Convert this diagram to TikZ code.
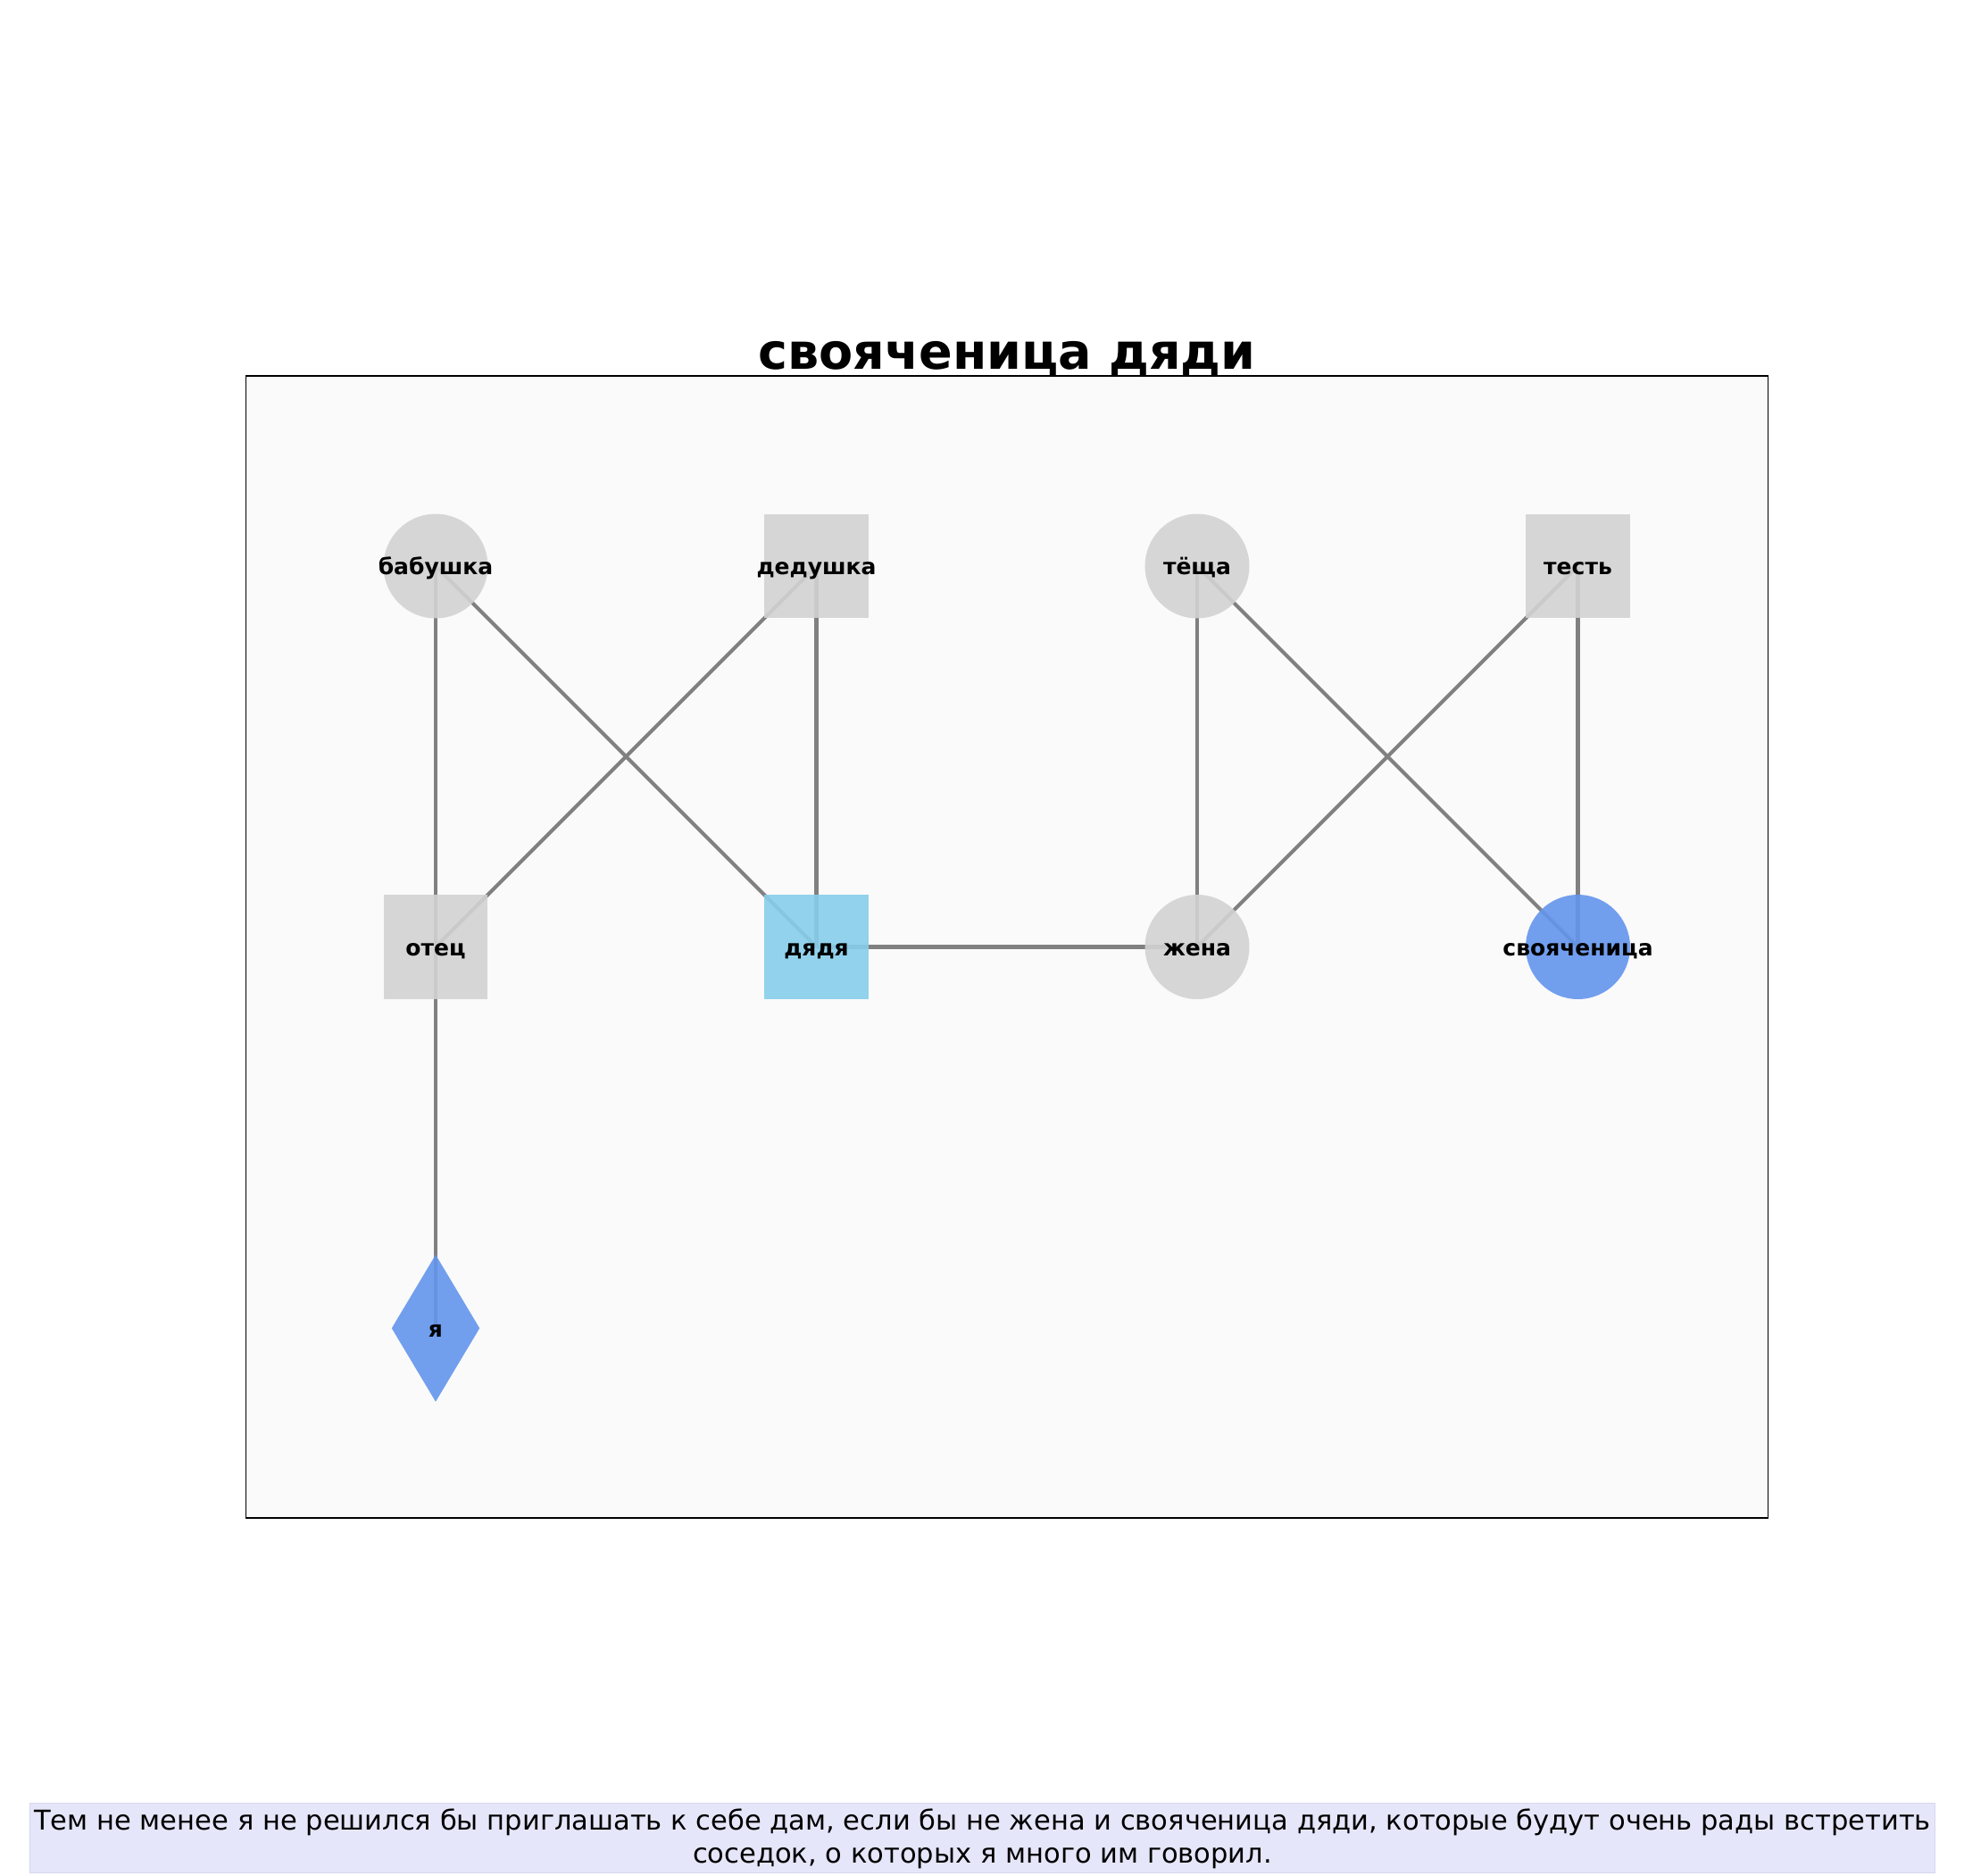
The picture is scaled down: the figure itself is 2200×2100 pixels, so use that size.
\documentclass[tikz,border=0pt]{standalone}
\usepackage{fontspec}
\setmainfont{DejaVu Sans}
\usetikzlibrary{shapes.geometric}
\definecolor{nodegray}{HTML}{D3D3D3}
\definecolor{sky}{HTML}{87CEEB}
\definecolor{cblue}{HTML}{6495ED}
\definecolor{edgegray}{HTML}{808080}
\definecolor{panel}{HTML}{FAFAFA}
\definecolor{lav}{HTML}{E6E6FA}
\definecolor{lavedge}{HTML}{D6D6EC}
\tikzset{
  edge/.style={draw=edgegray, line width=1.5pt},
  roundnode/.style={circle, inner sep=0pt, minimum size=42.1pt, fill opacity=0.9, draw=none},
  squarenode/.style={rectangle, inner sep=0pt, minimum size=42.1pt, fill opacity=0.9, draw=none},
  diamondnode/.style={diamond, inner sep=0pt, minimum width=35.6pt, minimum height=59.4pt, fill opacity=0.9, draw=none},
  lbl/.style={font=\fontsize{9}{11}\selectfont\bfseries, text=black, inner sep=0pt, anchor=base, yshift=-3.5pt},
}
\begin{document}
\begin{tikzpicture}[x=0.36pt,y=-0.36pt]
\useasboundingbox (0,0) rectangle (2200,2100);
\fill[white] (0,0) rectangle (2200,2100);
% panel
\draw[fill=panel, draw=black, line width=0.55pt] (275.5,421) rectangle (1980.5,1700);
\node[anchor=base, inner sep=0pt, font=\fontsize{20}{24}\selectfont\bfseries] (title) at (1128,413) {свояченица дяди};
% coordinates
\coordinate (pBab) at (488,634);
\coordinate (pDed) at (914.5,634);
\coordinate (pTes) at (1341,634);
\coordinate (pTst) at (1767.5,634);
\coordinate (pOtc) at (488,1060.5);
\coordinate (pDya) at (914.5,1060.5);
\coordinate (pZhe) at (1341,1060.5);
\coordinate (pSvo) at (1767.5,1060.5);
\coordinate (pYa) at (488,1487.5);
% edges
\draw[edge] (pBab) -- (pOtc);
\draw[edge] (pBab) -- (pDya);
\draw[edge] (pDed) -- (pOtc);
\draw[edge] (pDed) -- (pDya);
\draw[edge] (pTes) -- (pZhe);
\draw[edge] (pTes) -- (pSvo);
\draw[edge] (pTst) -- (pZhe);
\draw[edge] (pTst) -- (pSvo);
\draw[edge] (pDya) -- (pZhe);
\draw[edge] (pOtc) -- (pYa);
% nodes
\node[roundnode, fill=nodegray] (bab) at (pBab) {};
\node[squarenode, fill=nodegray] (ded) at (pDed) {};
\node[roundnode, fill=nodegray] (tes) at (pTes) {};
\node[squarenode, fill=nodegray] (tst) at (pTst) {};
\node[squarenode, fill=nodegray] (otc) at (pOtc) {};
\node[squarenode, fill=sky] (dya) at (pDya) {};
\node[roundnode, fill=nodegray] (zhe) at (pZhe) {};
\node[roundnode, fill=cblue] (svo) at (pSvo) {};
\node[diamondnode, fill=cblue] (ya) at (pYa) {};
% labels
\node[lbl] (lBab) at (bab.center) {бабушка};
\node[lbl] (lDed) at (ded.center) {дедушка};
\node[lbl] (lTes) at (tes.center) {тёща};
\node[lbl] (lTst) at (tst.center) {тесть};
\node[lbl] (lOtc) at (otc.center) {отец};
\node[lbl] (lDya) at (dya.center) {дядя};
\node[lbl] (lZhe) at (zhe.center) {жена};
\node[lbl] (lSvo) at (svo.center) {свояченица};
\node[lbl] (lYa) at (ya.center) {я};
% caption
\draw[fill=lav, draw=lavedge, line width=0.5pt] (33.3,2019.3) rectangle (2167.7,2097.3);
\node[align=center, inner sep=0pt, font=\fontsize{11}{13.2}\selectfont] (cap) at (1100.5,2059) {Тем не менее я не решился бы приглашать к себе дам, если бы не жена и свояченица дяди, которые будут очень рады встретить\\соседок, о которых я много им говорил.};
\end{tikzpicture}
\end{document}
